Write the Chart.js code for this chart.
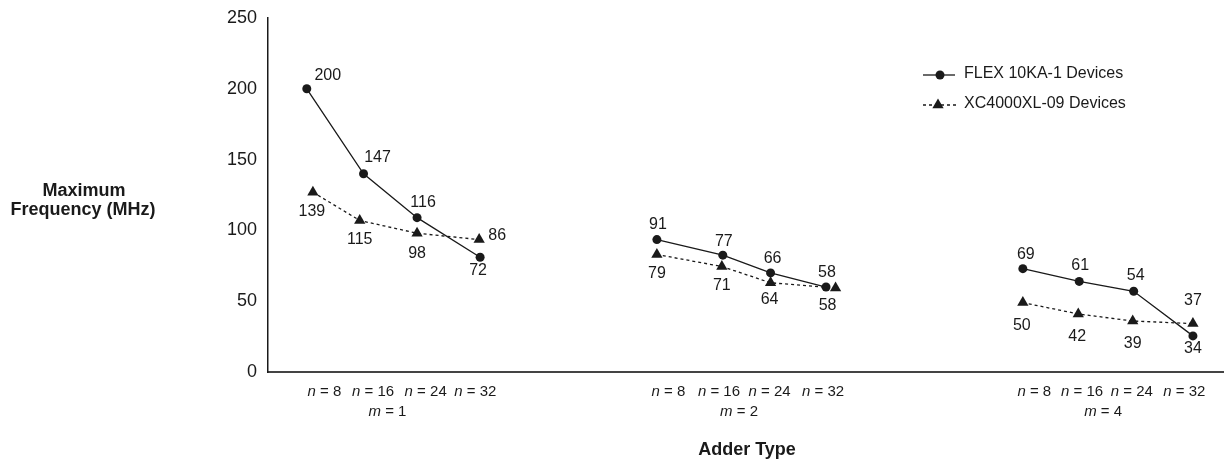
<!DOCTYPE html>
<html>

<head>
    <title>Adder Type vs Maximum Frequency</title>
    <script src="https://cdn.jsdelivr.net/npm/chart.js"></script>
    <style>
        body { margin: 0; background: #fff; }
    </style>
</head>

<body>
    <canvas id="myChart" width="1230" height="460"></canvas>

    <script>
        // groups along the x axis, each has n = 8, 16, 24, 32
        var groupNames = ['m = 1', 'm = 2', 'm = 4'];
        var nValues = ['8', '16', '24', '32'];
        var yTicks = [0, 50, 100, 150, 200, 250];

        // where the points sit along the axis (0..100 of the axis length)
        var flexX = [[4.06, 10.0, 15.6, 22.2], [40.7, 47.6, 52.6, 58.4], [79.0, 84.9, 90.6, 96.8]];
        var xcX = [[4.7, 9.6, 15.6, 22.1], [40.7, 47.5, 52.6, 59.4], [79.0, 84.8, 90.5, 96.8]];

        // plotted heights
        var flexY = [[200, 140, 109, 81], [93.5, 82.5, 70, 60], [73, 64, 57, 25.5]];
        var xcY = [[127, 107, 98, 93.5], [83, 74.5, 63, 59.3], [49, 41, 36, 34.2]];

        // numbers printed next to the points
        var flexText = [['200', '147', '116', '72'], ['91', '77', '66', '58'], ['69', '61', '54', '34']];
        var xcText = [['139', '115', '98', '86'], ['79', '71', '64', '58'], ['50', '42', '39', '37']];

        // label positions under the axis
        var nLabelX = [[5.9, 11.0, 16.5, 21.7], [41.9, 47.2, 52.5, 58.1], [80.2, 85.2, 90.4, 95.9]];
        var groupLabelX = [12.5, 49.3, 87.4];

        // where each printed number goes relative to its point (px)
        var flexOffset = [[[21, -13], [14, -16], [6, -15], [-2, 13]], [[1, -15], [1, -14], [2, -14], [1, -14]], [[3, -14], [1, -16], [2, -16], [0, 13]]];
        var xcOffset = [[[-1, 19], [0, 19], [0, 20], [18, -4]], [[0, 19], [0, 19], [-1, 17], [-8, 18]], [[-1, 23], [-1, 23], [0, 23], [0, -23]]];

        var FONT = 'Liberation Sans, Arial, sans-serif';
        var INK = '#1a1a1a';

        // flatten the groups into one series with gaps in between
        function buildSeries(xs, ys, texts, offsets) {
            var data = [], labels = [], offs = [];
            for (var g = 0; g < xs.length; g++) {
                for (var i = 0; i < xs[g].length; i++) {
                    data.push({ x: xs[g][i], y: ys[g][i] });
                    labels.push(texts[g][i]);
                    offs.push(offsets[g][i]);
                }
                if (g < xs.length - 1) {
                    data.push({ x: (xs[g][xs[g].length - 1] + xs[g + 1][0]) / 2, y: null });
                    labels.push(null);
                    offs.push(null);
                }
            }
            return { data: data, labels: labels, offsets: offs };
        }

        var flex = buildSeries(flexX, flexY, flexText, flexOffset);
        var xc = buildSeries(xcX, xcY, xcText, xcOffset);

        function drawTriangle(ctx, x, y, r) {
            ctx.beginPath();
            ctx.moveTo(x, y - r);
            ctx.lineTo(x + r * Math.sqrt(3) / 2, y + r / 2);
            ctx.lineTo(x - r * Math.sqrt(3) / 2, y + r / 2);
            ctx.closePath();
            ctx.fill();
        }

        // "n = 8" with an italic n, centred at cx
        function drawVarLabel(ctx, name, rest, cx, y) {
            ctx.font = 'italic 15px ' + FONT;
            var w1 = ctx.measureText(name).width;
            ctx.font = '15px ' + FONT;
            var w2 = ctx.measureText(rest).width;
            var x0 = cx - (w1 + w2) / 2;
            ctx.textAlign = 'left';
            ctx.font = 'italic 15px ' + FONT;
            ctx.fillText(name, x0, y);
            ctx.font = '15px ' + FONT;
            ctx.fillText(rest, x0 + w1, y);
        }

        var annotations = {
            id: 'annotations',
            afterDatasetsDraw: function (chart) {
                var ctx = chart.ctx;
                ctx.save();
                ctx.fillStyle = INK;
                ctx.textBaseline = 'middle';
                ctx.textAlign = 'center';
                ctx.font = '16px ' + FONT;
                [flex, xc].forEach(function (series, d) {
                    var meta = chart.getDatasetMeta(d);
                    meta.data.forEach(function (pt, i) {
                        if (series.labels[i] === null) return;
                        var off = series.offsets[i];
                        ctx.fillText(series.labels[i], pt.x + off[0], pt.y + off[1]);
                    });
                });
                ctx.restore();
            },
            afterDraw: function (chart) {
                var ctx = chart.ctx;
                var xs = chart.scales.x;
                ctx.save();
                ctx.fillStyle = INK;
                ctx.strokeStyle = INK;
                ctx.textBaseline = 'middle';

                // x labels
                for (var g = 0; g < groupNames.length; g++) {
                    for (var i = 0; i < nValues.length; i++) {
                        drawVarLabel(ctx, 'n', ' = ' + nValues[i], xs.getPixelForValue(nLabelX[g][i]), 392);
                    }
                    var parts = groupNames[g].split(' = ');
                    drawVarLabel(ctx, parts[0], ' = ' + parts[1], xs.getPixelForValue(groupLabelX[g]), 412);
                }

                // axis titles
                ctx.textAlign = 'center';
                ctx.font = 'bold 18px ' + FONT;
                ctx.fillText('Maximum', 84, 191);
                ctx.fillText('Frequency (MHz)', 83, 210);
                ctx.fillText('Adder Type', 747, 450);

                // legend
                ctx.lineWidth = 1.3;
                ctx.beginPath();
                ctx.moveTo(923, 75);
                ctx.lineTo(955, 75);
                ctx.stroke();
                ctx.beginPath();
                ctx.arc(940, 75, 4.5, 0, Math.PI * 2);
                ctx.fill();

                ctx.setLineDash([3, 3]);
                ctx.beginPath();
                ctx.moveTo(923, 105);
                ctx.lineTo(956, 105);
                ctx.stroke();
                ctx.setLineDash([]);
                drawTriangle(ctx, 938, 105, 6.5);

                ctx.textAlign = 'left';
                ctx.font = '16px ' + FONT;
                ctx.fillText('FLEX 10KA-1 Devices', 964, 74);
                ctx.fillText('XC4000XL-09 Devices', 964, 104);
                ctx.restore();
            }
        };

        var ctx = document.getElementById('myChart').getContext('2d');
        var myChart = new Chart(ctx, {
            type: 'line',
            data: {
                datasets: [{
                    label: 'FLEX 10KA-1 Devices',
                    data: flex.data,
                    borderColor: INK,
                    borderWidth: 1.3,
                    backgroundColor: INK,
                    pointStyle: 'circle',
                    pointRadius: 4.5,
                    pointBorderWidth: 0,
                    pointBackgroundColor: INK,
                    spanGaps: false,
                    tension: 0
                }, {
                    label: 'XC4000XL-09 Devices',
                    data: xc.data,
                    borderColor: INK,
                    borderWidth: 1.3,
                    borderDash: [3, 3],
                    backgroundColor: INK,
                    pointStyle: 'triangle',
                    pointRadius: 6.5,
                    pointBorderWidth: 0,
                    pointBackgroundColor: INK,
                    spanGaps: false,
                    tension: 0
                }]
            },
            options: {
                responsive: false,
                animation: false,
                layout: { padding: { top: 18, right: 2, bottom: 88, left: 0 } },
                plugins: {
                    legend: { display: false },
                    tooltip: { enabled: false }
                },
                scales: {
                    x: {
                        type: 'linear',
                        min: 0,
                        max: 100,
                        grid: { display: false, drawTicks: false },
                        ticks: { display: false },
                        border: { display: true, color: '#444', width: 2 },
                        afterFit: function (scale) { scale.height = 0; }
                    },
                    y: {
                        min: yTicks[0],
                        max: yTicks[yTicks.length - 1],
                        ticks: {
                            stepSize: yTicks[1] - yTicks[0],
                            padding: 11,
                            color: INK,
                            font: { family: FONT, size: 18 }
                        },
                        grid: { display: false, drawTicks: false },
                        border: { display: true, color: INK, width: 1.5 },
                        afterFit: function (scale) {
                            scale.width = 268;
                            scale.paddingTop = 0;
                            scale.paddingBottom = 0;
                        }
                    }
                }
            },
            plugins: [annotations]
        });
    </script>
</body>

</html>
